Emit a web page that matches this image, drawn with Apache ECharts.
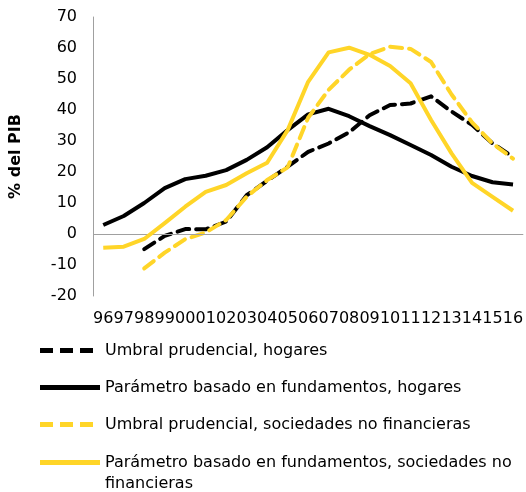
<!DOCTYPE html>
<html>
<head>
<meta charset="utf-8">
<script src="https://cdn.jsdelivr.net/npm/echarts@6/dist/echarts.min.js"></script>
<style>html,body{margin:0;padding:0;background:#fff}#c{width:526px;height:492px}</style>
</head>
<body>
<div id="c"></div>
<script>
const categories = ['96','97','98','99','00','01','02','03','04','05','06','07','08','09','10','11','12','13','14','15','16'];
const yTicks = [-20, 70, 10];
const umbralHogares = [null, null, -4.9, -0.6, 1.6, 1.5, 4.0, 12.5, 17.2, 21.7, 26.5, 29.2, 32.8, 38.3, 41.6, 42.1, 44.4, 39.5, 35.2, 29.2, 24.9];
const parametroHogares = [2.9, 5.8, 10.0, 14.8, 17.7, 18.8, 20.6, 23.9, 28.0, 33.5, 38.6, 40.4, 38.0, 34.8, 31.9, 28.7, 25.5, 21.7, 18.7, 16.7, 16.0];
const umbralSociedades = [null, null, -11.1, -6.0, -1.7, 0.5, 4.5, 12.0, 17.4, 21.5, 37.5, 46.5, 53.0, 58.0, 60.4, 59.7, 55.5, 45.0, 36.0, 29.2, 24.3];
const parametroSociedades = [-4.4, -4.1, -1.6, 3.5, 8.8, 13.6, 15.8, 19.6, 23.0, 33.5, 49.1, 58.6, 60.1, 57.8, 54.2, 48.6, 36.8, 26.0, 16.5, 12.0, 7.5];
const names = ['Umbral prudencial, hogares', 'Parámetro basado en fundamentos, hogares', 'Umbral prudencial, sociedades no financieras', 'Parámetro basado en fundamentos, sociedades no financieras'];

const FONT = 'DejaVu Sans';
const YELLOW = '#FFD528';
// icon box is 60 x 42; the bar sits at the text line it belongs to
const BOX = ' M0,0L0,0 M60,42L60,42';
const SOLID_ICON = 'path://M0,18.5H60V23.5H0Z' + BOX;
const DASH_ICON = 'path://M0,18.5H13V23.5H0Z M20,18.5H33V23.5H20Z M40,18.5H53V23.5H40Z' + BOX;
const SOLID_ICON_TOP = 'path://M0,8H60V13H0Z' + BOX;
const chart = echarts.init(document.getElementById('c'), null, {renderer: 'canvas'});
function line(name, data, color, dashed, extra) {
  return Object.assign({
    name: name, type: 'line', data: data, symbol: 'none', showSymbol: false,
    connectNulls: false, animation: false,
    lineStyle: {color: color, width: 4, type: dashed ? [12, 7] : 'solid', cap: dashed ? 'round' : 'butt', join: 'round'},
    itemStyle: {color: color}
  }, extra || {});
}
chart.setOption({
  animation: false,
  grid: {left: 87, right: 0, top: 17, bottom: 196, containLabel: false},
  xAxis: {
    type: 'category', data: categories, boundaryGap: true,
    axisLine: {show: false}, axisTick: {show: false},
    axisLabel: {interval: 0, margin: 15, fontFamily: FONT, fontSize: 16, color: '#000'}
  },
  yAxis: {
    type: 'value', min: yTicks[0], max: yTicks[1], interval: yTicks[2],
    name: '% del PIB', nameLocation: 'middle', nameGap: 69,
    nameTextStyle: {fontFamily: FONT, fontSize: 16, fontWeight: 'bold', color: '#000'},
    axisLine: {show: true, lineStyle: {color: '#A0A0A0', width: 1}},
    axisTick: {show: false}, splitLine: {show: false},
    axisLabel: {margin: 16, fontFamily: FONT, fontSize: 16, color: '#000'}
  },
  legend: {
    orient: 'vertical', left: 40, top: 329.5, height: 300, padding: 0,
    itemWidth: 60, itemHeight: 42, itemGap: -5,
    textStyle: {fontFamily: FONT, fontSize: 16, color: '#000', lineHeight: 21},
    formatter: function (name) {
      return name === names[3] ? name.replace(' no financieras', ' no\nfinancieras') : name;
    },
    data: [
      {name: names[0], icon: DASH_ICON},
      {name: names[1], icon: SOLID_ICON},
      {name: names[2], icon: DASH_ICON},
      {name: names[3], icon: SOLID_ICON_TOP, textStyle: {padding: [23, 0, 0, 0]}}
    ]
  },
  series: [
    line(names[0], umbralHogares, '#000', true, {z: 3}),
    line(names[1], parametroHogares, '#000', false, {z: 2,
      markLine: {silent: true, symbol: 'none', label: {show: false}, animation: false,
        lineStyle: {color: '#A0A0A0', width: 1, type: 'solid'}, data: [{yAxis: 0}]}}),
    line(names[2], umbralSociedades, YELLOW, true, {z: 4}),
    line(names[3], parametroSociedades, YELLOW, false, {z: 5})
  ]
});
</script>
</body>
</html>
